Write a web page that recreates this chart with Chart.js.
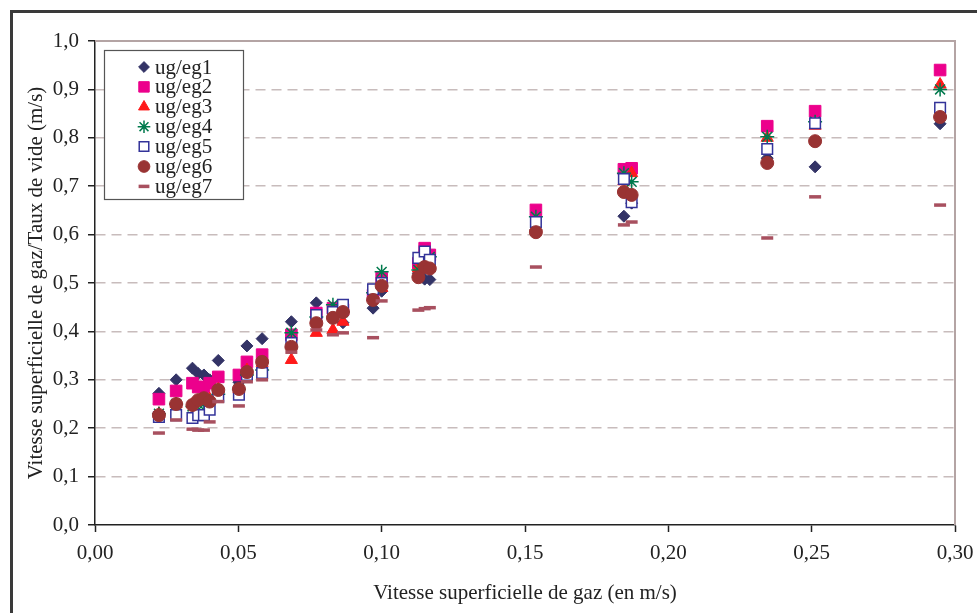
<!DOCTYPE html>
<html>
<head>
<meta charset="utf-8">
<script src="https://cdn.jsdelivr.net/npm/chart.js@4.4.0/dist/chart.umd.min.js"></script>
<style>
  html, body { margin: 0; padding: 0; background: #fff; }
  #wrap { position: relative; width: 977px; height: 613px; }
  #frame { position: absolute; left: 10px; top: 10px; right: -5px; bottom: -5px;
           border-top: 3px solid #3a3a3a; border-left: 3px solid #3a3a3a; pointer-events: none; }
  canvas { position: absolute; left: 0; top: 0; }
</style>
</head>
<body>
<div id="wrap">
  <canvas id="chart" width="977" height="613"></canvas>
  <div id="frame"></div>
</div>
<script>
// Superficial gas velocity (m/s), shared by all series
const ug = [0.0223, 0.0283, 0.0340, 0.0360, 0.0380, 0.0400, 0.0430, 0.0502, 0.0530, 0.0583,
            0.0685, 0.0772, 0.0830, 0.0865, 0.0970, 0.1000, 0.1128, 0.1150, 0.1168, 0.1538,
            0.1845, 0.1872, 0.2345, 0.2512, 0.2948];

// ug/eg for each void fraction measurement
const eg1 = [0.272, 0.300, 0.324, 0.313, 0.310, 0.300, 0.340, 0.295, 0.370, 0.385,
             0.420, 0.459, 0.430, 0.418, 0.448, 0.483, 0.520, 0.508, 0.507, 0.610,
             0.638, 0.665, 0.758, 0.740, 0.829];
const eg2 = [0.260, 0.277, 0.293, 0.285, 0.285, 0.293, 0.306, 0.310, 0.337, 0.352,
             0.393, 0.438, 0.448, 0.445, 0.475, 0.510, 0.541, 0.572, 0.558, 0.651,
             0.735, 0.737, 0.824, 0.855, 0.940];
const eg3 = [0.230, 0.250, 0.250, 0.255, 0.255, 0.260, 0.280, 0.280, 0.320, 0.335,
             0.341, 0.397, 0.403, 0.420, 0.470, 0.490, 0.530, 0.540, 0.540, 0.615,
             0.710, 0.727, 0.800, 0.825, 0.910];
const eg4 = [0.230, 0.250, 0.245, 0.250, 0.250, 0.255, 0.270, 0.280, 0.310, 0.320,
             0.397, 0.430, 0.455, 0.440, 0.480, 0.523, 0.527, 0.540, 0.554, 0.637,
             0.727, 0.709, 0.802, 0.833, 0.900];
const eg5 = [0.223, 0.227, 0.221, 0.227, 0.227, 0.238, 0.265, 0.269, 0.310, 0.314,
             0.376, 0.434, 0.440, 0.455, 0.487, 0.500, 0.552, 0.565, 0.548, 0.626,
             0.715, 0.667, 0.777, 0.830, 0.862];
const eg6 = [0.227, 0.250, 0.248, 0.258, 0.262, 0.255, 0.279, 0.281, 0.316, 0.337,
             0.368, 0.417, 0.428, 0.440, 0.465, 0.494, 0.512, 0.533, 0.530, 0.605,
             0.688, 0.682, 0.748, 0.793, 0.843];
const eg7 = [0.190, 0.217, 0.198, 0.196, 0.196, 0.213, 0.255, 0.246, 0.296, 0.300,
             0.357, 0.403, 0.393, 0.397, 0.387, 0.463, 0.444, 0.447, 0.449, 0.533,
             0.620, 0.626, 0.593, 0.678, 0.661];

const seriesNames = ['ug/eg1', 'ug/eg2', 'ug/eg3', 'ug/eg4', 'ug/eg5', 'ug/eg6', 'ug/eg7'];
const seriesValues = [eg1, eg2, eg3, eg4, eg5, eg6, eg7];

// marker look per series
const markers = [
    { pointStyle: 'rectRot', radius: 6, bg: '#333366', border: '#333366', bw: 1 },
    { pointStyle: 'rect', radius: 8.2, bg: '#ec008c', border: '#ec008c', bw: 1 },
    { pointStyle: 'triangle', radius: 7, bg: '#ff1a1a', border: '#ff1a1a', bw: 1 },
    { pointStyle: 'star', radius: 7, bg: '#007a4d', border: '#007a4d', bw: 1.5 },
    { pointStyle: 'rect', radius: 7.5, bg: '#ffffff', border: '#333399', bw: 1.5 },
    { pointStyle: 'circle', radius: 6.5, bg: '#993333', border: '#993333', bw: 1 },
    { pointStyle: 'line', radius: 6, bg: '#a8505f', border: '#a8505f', bw: 3.5 }
];

const FONT = 'Liberation Serif';
const comma = (v, d) => Number(v).toFixed(d).replace('.', ',');

const datasets = seriesNames.map((name, s) => ({
    label: name,
    data: ug.map((x, i) => ({ x: x, y: seriesValues[s][i] })),
    showLine: false,
    pointStyle: markers[s].pointStyle,
    pointRadius: markers[s].radius,
    pointHoverRadius: markers[s].radius,
    backgroundColor: markers[s].bg,
    borderColor: markers[s].border,
    borderWidth: markers[s].bw,
    order: 7 - s
}));

// top and right edges of the plot area
const plotFrame = {
    id: 'plotFrame',
    beforeDatasetsDraw(chart) {
        const a = chart.chartArea, ctx = chart.ctx;
        ctx.save();
        ctx.strokeStyle = '#b4a4a4';
        ctx.lineWidth = 2;
        ctx.beginPath();
        ctx.moveTo(a.left, a.top);
        ctx.lineTo(a.right, a.top);
        ctx.lineTo(a.right, a.bottom);
        ctx.stroke();
        ctx.restore();
    }
};

// boxed legend inside the plot, top left
const boxLegend = {
    id: 'boxLegend',
    afterDraw(chart) {
        const ctx = chart.ctx;
        const x0 = 104, y0 = 50, w = 139, h = 149;
        ctx.save();
        ctx.fillStyle = '#ffffff';
        ctx.fillRect(x0, y0, w, h);
        ctx.strokeStyle = '#555555';
        ctx.lineWidth = 1.2;
        ctx.strokeRect(x0 + 0.5, y0 + 0.5, w, h);
        ctx.font = '21px "' + FONT + '"';
        ctx.textBaseline = 'middle';
        seriesNames.forEach((name, s) => {
            const m = markers[s];
            const cy = 67 + s * 19.9;
            ctx.fillStyle = m.bg;
            ctx.strokeStyle = m.border;
            ctx.lineWidth = m.bw;
            Chart.helpers.drawPoint(ctx, {
                pointStyle: m.pointStyle,
                radius: m.radius * 0.9,
                rotation: 0,
                borderWidth: m.bw
            }, 144, cy);
            ctx.fillStyle = '#222222';
            ctx.fillText(name, 155, cy + 1);
        });
        ctx.restore();
    }
};

new Chart(document.getElementById('chart'), {
    type: 'scatter',
    data: { datasets: datasets },
    options: {
        responsive: false,
        animation: false,
        layout: { padding: { left: 24, right: 22, top: 41, bottom: 0 } },
        plugins: {
            legend: { display: false },
            tooltip: { enabled: false }
        },
        scales: {
            x: {
                type: 'linear',
                min: 0,
                max: 0.3,
                afterFit(scale) {
                    scale.height = 88;
                    scale.paddingRight = 0;
                    scale.paddingLeft = 0;
                },
                ticks: {
                    stepSize: 0.05,
                    padding: 9,
                    color: '#222222',
                    font: { family: FONT, size: 21 },
                    callback: v => comma(v, 2)
                },
                grid: {
                    drawOnChartArea: false,
                    drawTicks: true,
                    tickLength: 7,
                    tickColor: '#222222',
                    tickWidth: 1.5
                },
                border: { display: true, color: '#222222', width: 1.5 },
                title: {
                    display: true,
                    text: 'Vitesse superficielle de gaz (en m/s)',
                    color: '#222222',
                    font: { family: FONT, size: 21 },
                    padding: { top: 4, bottom: 7 }
                }
            },
            y: {
                min: 0,
                max: 1,
                afterFit(scale) { scale.width = 71; },
                ticks: {
                    stepSize: 0.1,
                    padding: 9,
                    color: '#222222',
                    font: { family: FONT, size: 21 },
                    callback: v => comma(v, 1)
                },
                grid: {
                    color: c => (c.tick && (c.tick.value <= 0.001 || c.tick.value >= 0.999)) ? 'rgba(0,0,0,0)' : '#c8bcbc',
                    lineWidth: 1.5,
                    drawTicks: true,
                    tickLength: 7,
                    tickColor: '#222222',
                    tickWidth: 1.5
                },
                border: { display: true, color: '#222222', width: 1.5, dash: [10, 6] },
                title: {
                    display: true,
                    text: 'Vitesse superficielle de gaz/Taux de vide (m/s)',
                    color: '#222222',
                    font: { family: FONT, size: 21 },
                    padding: { top: 0, bottom: 4 }
                }
            }
        }
    },
    plugins: [plotFrame, boxLegend]
});
</script>
</body>
</html>
